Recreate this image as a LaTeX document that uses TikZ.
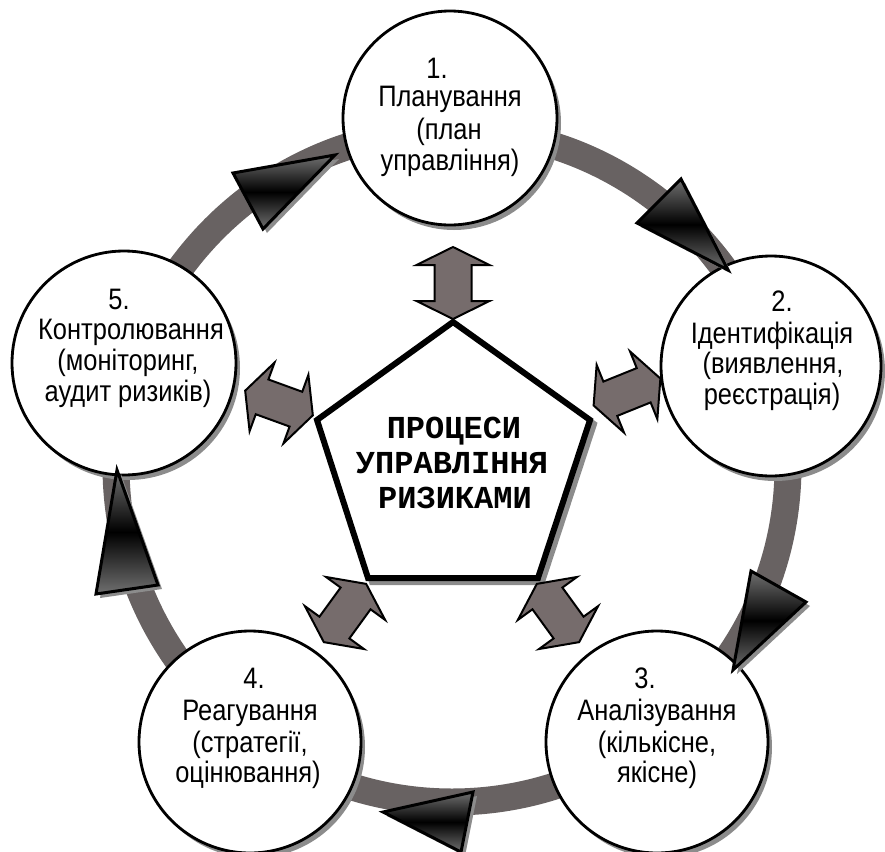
\documentclass[tikz,border=0pt]{standalone}
\usepackage{fontspec}
\setmainfont{Liberation Sans}[FakeStretch=0.86]
\newfontfamily\titlefont{Liberation Mono}
\usetikzlibrary{calc}

\definecolor{ringgray}{HTML}{686262}
\definecolor{arrowfill}{HTML}{766C6C}
\definecolor{shadegray}{HTML}{8C8C8C}
\definecolor{trigray}{HTML}{707070}

\tikzset{
  stage/.style={circle, draw=black, line width=1.4pt, fill=white, inner sep=0pt},
  stageshadow/.style={fill=shadegray},
  stagetext/.style={anchor=base, inner sep=0pt, font=\fontsize{14.8pt}{16pt}\selectfont},
  titletext/.style={anchor=base, inner sep=0pt, font=\titlefont\bfseries\fontsize{16pt}{18pt}\selectfont},
  pointer/.style={draw=black, line width=1.5pt, line join=miter,
    top color=trigray, bottom color=trigray, middle color=black},
  pointershadow/.style={fill=shadegray},
  dblarrow/.pic={
    \draw[fill=arrowfill, draw=black, line width=1pt, line join=miter]
      (36,0) -- (18,36.5) -- (18,18.5) -- (-18,18.5) -- (-18,36.5) --
      (-36,0) -- (-18,-36.5) -- (-18,-18.5) -- (18,-18.5) -- (18,-36.5) -- cycle;
  }
}

\begin{document}
\begin{tikzpicture}[x=0.5pt, y=-0.5pt]
\useasboundingbox (0,0) rectangle (885,852);

% centre of the cycle and the grey ring that carries the flow
\coordinate (o) at (452,466);
\draw[ringgray, line width=13.5pt] (o) circle[radius=336];

% stage positions
\coordinate (p1) at (450,118);
\coordinate (p2) at (771,366);
\coordinate (p3) at (657,742);
\coordinate (p4) at (250,742);
\coordinate (p5) at (124,363);

% drop shadows of the stage circles
\foreach \p/\r in {p1/107, p2/110, p3/111, p4/111, p5/112}
  \fill[stageshadow] ($(\p)+(4,5)$) circle[radius=\r];

% stage circles
\node[stage, minimum size=107pt] (s1) at (p1) {};
\node[stage, minimum size=110pt] (s2) at (p2) {};
\node[stage, minimum size=111pt] (s3) at (p3) {};
\node[stage, minimum size=111pt] (s4) at (p4) {};
\node[stage, minimum size=112pt] (s5) at (p5) {};

% central pentagon with its shadow
\coordinate (k1) at (453,322);
\coordinate (k2) at (590,420);
\coordinate (k3) at (538,578);
\coordinate (k4) at (368,578);
\coordinate (k5) at (317,420);
\draw[shadegray, line width=3pt, line join=miter]
  ($(k1)+(4,4)$) -- ($(k2)+(4,4)$) -- ($(k3)+(4,4)$) -- ($(k4)+(4,4)$) -- ($(k5)+(4,4)$) -- cycle;
\draw[black, fill=white, line width=3pt, line join=miter]
  (k1) -- (k2) -- (k3) -- (k4) -- (k5) -- cycle;

\node[titletext] (h1) at (454,438) {ПРОЦЕСИ};
\node[titletext] (h2) at (452,473) {УПРАВЛІННЯ};
\node[titletext] (h3) at (455,508) {РИЗИКАМИ};

% two-way links between the pentagon and each stage
\pic[rotate=90]   at (453,283)   {dblarrow};
\pic[rotate=22]   at (627,392) {dblarrow};
\pic[rotate=-54]  at (558,613) {dblarrow};
\pic[rotate=54]   at (345,613) {dblarrow};
\pic[rotate=160]  at (279,403) {dblarrow};

% direction markers on the ring
\foreach \a/\b/\c in {
  {(233,173)}/{(263,229)}/{(335,155)},
  {(637,223)}/{(681,179)}/{(728,270)},
  {(751,571)}/{(806,602)}/{(733,670)},
  {(473,792)}/{(461,852)}/{(383,812)},
  {(96,594)}/{(158,585)}/{(117,470)}} {
  \fill[pointershadow, shift={(4,4)}] \a -- \b -- \c -- cycle;
  \draw[pointer] \a -- \b -- \c -- cycle;
}

% stage labels
\node[stagetext] (n1) at (437,78)  {1.};
\node[stagetext] (t1a) at (450,106) {Планування};
\node[stagetext] (t1b) at (449,139) {(план};
\node[stagetext] (t1c) at (450,170) {управління)};

\node[stagetext] (n2) at (782,311) {2.};
\node[stagetext] (t2a) at (772,343) {Ідентифікація};
\node[stagetext] (t2b) at (773,373) {(виявлення,};
\node[stagetext] (t2c) at (772,404) {реєстрація)};

\node[stagetext] (n3) at (645,688) {3.};
\node[stagetext] (t3a) at (657,720) {Аналізування};
\node[stagetext] (t3b) at (657,752) {(кількісне,};
\node[stagetext] (t3c) at (657,782) {якісне)};

\node[stagetext] (n4) at (254,688) {4.};
\node[stagetext] (t4a) at (250,720) {Реагування};
\node[stagetext] (t4b) at (250,752) {(стратегії,};
\node[stagetext] (t4c) at (248,782) {оцінювання)};

\node[stagetext] (n5) at (119,309) {5.};
\node[stagetext] (t5a) at (131,339) {Контролювання};
\node[stagetext] (t5b) at (128,370) {(моніторинг,};
\node[stagetext] (t5c) at (128,401) {аудит ризиків)};
\end{tikzpicture}
\end{document}
